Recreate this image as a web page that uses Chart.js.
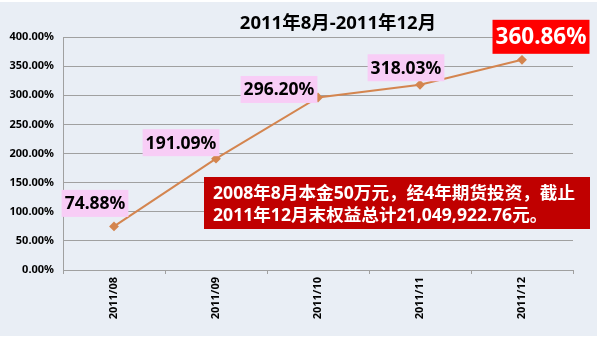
<!DOCTYPE html>
<html>
<head>
<meta charset="utf-8">
<script src="https://cdn.jsdelivr.net/npm/chart.js@4/dist/chart.umd.min.js"></script>
<style>
  html, body { margin: 0; padding: 0; background: #ffffff; }
  canvas { display: block; }
</style>
</head>
<body>
<canvas id="chart" width="600" height="340"></canvas>
<script>
// chart data
const months = ['2011/08', '2011/09', '2011/10', '2011/11', '2011/12'];
const returns = [74.88, 191.09, 296.20, 318.03, 360.86];
const pointLabels = ['74.88%', '191.09%', '296.20%', '318.03%', '360.86%'];

const titleText = '2011年8月-2011年12月';
const noteLines = [
  '2008年8月本金50万元，经4年期货投资，截止',
  '2011年12月末权益总计21,049,922.76元。',
];

const fontFamily = '"Noto Sans", "Noto Sans CJK SC", sans-serif';

// where each value label sits relative to its point (centre offset)
const labelOffsets = [[-19, -23], [-35, -16], [-39, -8], [-14, -17], [19, -23]];

// pick a bold font size so that text is about `width` px wide
const fitFont = function fitBoldFont(ctx, text, width) {
  ctx.font = `bold 20px ${fontFamily}`;
  const size = (20 * width) / ctx.measureText(text).width;
  ctx.font = `bold ${size.toFixed(1)}px ${fontFamily}`;
};

// Background, title, value boxes and the red note.
const decorations = {
  id: 'decorations',
  beforeDraw(chart) {
    const { ctx } = chart;
    ctx.save();
    ctx.fillStyle = '#e9eef5';
    ctx.fillRect(0, 2, 597, 334);
    ctx.restore();
  },
  afterDatasetsDraw(chart) {
    const { ctx } = chart;
    const points = chart.getDatasetMeta(0).data;
    ctx.save();

    // title
    ctx.fillStyle = '#000';
    fitFont(ctx, titleText, 196);
    ctx.textAlign = 'center';
    ctx.textBaseline = 'middle';
    ctx.fillText(titleText, 338, 24);

    // value boxes
    points.forEach((pt, i) => {
      const last = i === points.length - 1;
      const cx = pt.x + labelOffsets[i][0];
      const cy = pt.y + labelOffsets[i][1];
      ctx.font = `bold ${last ? 22.5 : 17.5}px ${fontFamily}`;
      const w = ctx.measureText(pointLabels[i]).width + 6;
      const h = last ? 34 : 27;
      ctx.fillStyle = last ? '#ff0000' : '#f8cdf6';
      ctx.fillRect(cx - w / 2, cy - h / 2, w, h);
      ctx.fillStyle = last ? '#ffffff' : '#000000';
      ctx.fillText(pointLabels[i], cx, cy + 1);
    });

    // note box
    ctx.fillStyle = '#c00000';
    ctx.fillRect(204, 177, 386, 52);
    ctx.fillStyle = '#ffffff';
    fitFont(ctx, noteLines[0], 362);
    ctx.textAlign = 'left';
    ctx.fillText(noteLines[0], 213, 194);
    ctx.fillText(noteLines[1], 213, 216);
    ctx.restore();
  },
};

new Chart(document.getElementById('chart'), {
  type: 'line',
  data: {
    labels: months,
    datasets: [{
      data: returns,
      borderColor: '#d4854f',
      backgroundColor: '#d4854f',
      borderWidth: 2,
      pointStyle: 'rectRot',
      pointRadius: 3.5,
      tension: 0,
    }],
  },
  options: {
    responsive: false,
    animation: false,
    devicePixelRatio: 1,
    layout: { padding: { top: 37, right: 27, left: 0, bottom: 0 } },
    plugins: {
      legend: { display: false },
      tooltip: { enabled: false },
    },
    scales: {
      x: {
        offset: true,
        afterFit(scale) { scale.height = 70; },
        grid: {
          offset: true,
          drawOnChartArea: false,
          drawTicks: true,
          tickLength: 4,
          color: '#a0a0a0',
        },
        border: { color: '#a0a0a0', width: 1 },
        ticks: {
          minRotation: 90,
          maxRotation: 90,
          padding: 3,
          color: '#000',
          font: { family: fontFamily, weight: 'bold', size: 11 },
        },
      },
      y: {
        min: 0,
        max: 400,
        afterFit(scale) { scale.width = 63; },
        grid: { color: '#a0a0a0', drawTicks: false },
        border: { color: '#a0a0a0', width: 1 },
        ticks: {
          stepSize: 50,
          padding: 9,
          color: '#000',
          font: { family: fontFamily, weight: 'bold', size: 11 },
          callback: (v) => v.toFixed(2) + '%',
        },
      },
    },
  },
  plugins: [decorations],
});
</script>
</body>
</html>
